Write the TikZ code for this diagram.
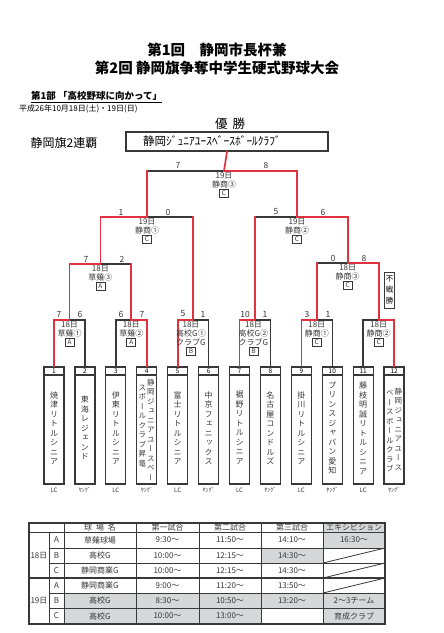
\documentclass[tikz,border=0pt]{standalone}
\usepackage{fontspec}
\setmainfont{Noto Sans CJK JP}
\newfontfamily\vjp{Noto Sans CJK JP}[RawFeature=+vert]
\definecolor{wred}{HTML}{E2323F}
\definecolor{lk}{HTML}{383838}
\definecolor{shd}{HTML}{D6D7D9}
\def\vstk#1{\vbox{\lineskiplimit=-\maxdimen\vsA#1\relax}}
\def\vsA#1{\ifx#1\relax\else\hbox to 1em{\hss#1\hss}\expandafter\vsA\fi}
\newcommand\mlab[6]{%
  \node[lab] (#1a) at (#2,#3) {#4};
  \node[lab] (#1b) at (#2,#3+8.5) {#5};
  \node[cbox] (#1c) at (#2,#3+17.5) {#6};}
\newcommand\mlabb[5]{%
  \node[lab] (#1a) at (#2,#3) {18日};
  \node[lab] (#1b) at (#2,#3+8.5) {#4};
  \node[lab] (#1d) at (#2,#3+17) {クラブG};
  \node[cbox] (#1c) at (#2,#3+26) {#5};}
\tikzset{
 rl/.style={draw=wred, line width=1.7pt, line cap=rect},
 bl/.style={draw=lk, line width=1.5pt, line cap=rect},
 lab/.style={inner sep=0pt, font=\fontsize{8}{8}\selectfont, text=lk},
 cbox/.style={draw=lk, line width=0.7pt, inner sep=0pt, minimum width=9pt, minimum height=8pt, font=\fontsize{6.5}{7}\selectfont, text=lk},
 sc/.style={inner sep=0pt, font=\fontsize{8.5}{8}\selectfont, text=lk},
 numbox/.style={draw=lk, line width=1.3pt, minimum width=20pt, minimum height=8pt, inner sep=0pt, font=\fontsize{6.5}{7}\selectfont},
 namebox/.style={draw=lk, line width=1.3pt, minimum width=20pt, minimum height=109pt, inner sep=0pt},
 vtxt/.style={inner sep=0pt, font=\vjp\fontsize{8}{9.5}\selectfont, text=lk},
 vtxtb/.style={inner sep=0pt, font=\vjp\fontsize{7.5}{9.5}\selectfont, text=lk},
 lgl/.style={inner sep=0pt, font=\fontsize{6}{6}\selectfont, text=lk},
 tline/.style={draw=lk, line width=0.9pt},
 tt/.style={inner sep=0pt, font=\fontsize{8}{8}\selectfont, text=lk},
}
\begin{document}
\begin{tikzpicture}[x=1pt,y=-1pt]
\useasboundingbox (0,0) rectangle (444,633);
\fill[white] (0,0) rectangle (444,633);
% titles
\node[inner sep=0pt, font=\fontsize{14.5}{15}\selectfont\bfseries] (t1) at (217,50) {第1回　静岡市長杯兼};
\node[inner sep=0pt, font=\fontsize{14.5}{15}\selectfont\bfseries] (t2) at (217,67.5) {第2回 静岡旗争奪中学生硬式野球大会};
\node[inner sep=0pt, anchor=west, font=\fontsize{9.5}{10}\selectfont\bfseries] (sub) at (31,96) {第1部 「高校野球に向かって」};
\draw[line width=0.7pt] ([yshift=-1.5pt]sub.south west) -- ([yshift=-1.5pt]sub.south east);
\node[inner sep=0pt, anchor=west, font=\fontsize{8}{8}\selectfont] (date) at (19,109) {平成26年10月18日(土)・19日(日)};
\node[inner sep=0pt, font=\fontsize{12.5}{13}\selectfont] (yusho) at (230,124) {優\hspace{5pt}勝};
\node[inner sep=0pt, font=\fontsize{12}{12}\selectfont] (renpa) at (64,143) {静岡旗2連覇};
\node[draw=lk, line width=1.2pt, minimum width=202pt, minimum height=19pt, inner xsep=17pt, inner ysep=0pt, text width=168pt, align=left, font=\fontsize{11.5}{12}\selectfont] (champ) at (227,141.5) {静岡ｼﾞｭﾆｱﾕｰｽﾍﾞｰｽﾎﾞｰﾙｸﾗﾌﾞ};
% teams
\foreach \i/\nm/\lg in {1/焼津リトルシニア/LC, 2/東海レジェンド/ﾔﾝｸﾞ, 3/伊東リトルシニア/LC, 4//ﾔﾝｸﾞ, 5/富士リトルシニア/LC, 6/中京フェニックス/ﾔﾝｸﾞ, 7/裾野リトルシニア/LC, 8/名古屋コンドルズ/ﾔﾝｸﾞ, 9/掛川リトルシニア/LC, 10/プリンスジャパン愛知/ﾔﾝｸﾞ, 11/藤枝明誠リトルシニア/LC, 12//ﾔﾝｸﾞ}{
  \pgfmathsetmacro\xx{54+30.92*(\i-1)}
  \node[namebox] (b\i) at (\xx,429.5) {};
  \node[numbox] (n\i) at (\xx,371) {\i};
  \node[vtxt] (v\i) at (\xx,428) {\expandafter\vstk\expandafter{\nm}};
  \node[lgl] (l\i) at (\xx,490) {\lg};
  \coordinate (h\i) at (\xx,320);
}
\node[vtxtb] (v4r) at (150.8,429.5) {\vstk{静岡ジュニアユースベー}};
\node[vtxtb] (v4l) at (142.3,426) {\vstk{スボールクラブ昇竜}};
\node[vtxtb] (v12r) at (398.3,429) {\vstk{静岡ジュニアユース}};
\node[vtxtb] (v12l) at (389.8,431) {\vstk{ベースボールクラブ}};
% junctions
\coordinate (m1) at (69.5,320); \coordinate (m2) at (131.3,320);
\coordinate (m3) at (193.2,320); \coordinate (m4) at (255,320);
\coordinate (m5) at (316.8,320); \coordinate (m6) at (378.7,320);
\coordinate (q1a) at (69.5,264); \coordinate (q1) at (100.4,264); \coordinate (q1b) at (131.3,264);
\coordinate (q2a) at (316.8,263); \coordinate (q2) at (347.7,263); \coordinate (q2b) at (378.7,263);
\coordinate (s1a) at (100.4,217); \coordinate (s1) at (147,217); \coordinate (s1b) at (193.2,217);
\coordinate (s2a) at (255,217); \coordinate (s2) at (297,217); \coordinate (s2b) at (347.7,217);
\coordinate (fa) at (147,171); \coordinate (f) at (224,171); \coordinate (fb) at (297,171);
% black segments first
\draw[bl] (m1) -- (h2) -- (n2.north);
\draw[bl] (n3.north) -- (h3) -- (m2);
\draw[bl] (m3) -- (h6) -- (n6.north);
\draw[bl] (m4) -- (h8) -- (n8.north);
\draw[bl] (m5) -- (h10) -- (n10.north);
\draw[bl] (n11.north) -- (h11) -- (m6);
\draw[bl] (q1) -- (q1b);
\draw[bl] (s1) -- (s1b);
\draw[bl] (q2a) -- (q2);
\draw[bl] (s2a) -- (s2);
\draw[bl] (fa) -- (f);
% red path
\draw[rl] (n1.north) -- (h1) -- (m1);
\draw[rl] (m2) -- (h4) -- (n4.north);
\draw[rl] (n5.north) -- (h5) -- (m3);
\draw[rl] (n7.north) -- (h7) -- (m4);
\draw[rl] (n9.north) -- (h9) -- (m5);
\draw[rl] (m6) -- (h12) -- (n12.north);
\draw[rl] (m1) -- (q1a) -- (q1);
\draw[rl] (m2) -- (q1b);
\draw[rl] (q1) -- (s1a) -- (s1);
\draw[rl] (m3) -- (s1b);
\draw[rl] (m5) -- (q2a);
\draw[rl] (q2) -- (q2b) -- (m6);
\draw[rl] (m4) -- (s2a);
\draw[rl] (s2) -- (s2b) -- (q2);
\draw[rl] (s1) -- (fa);
\draw[rl] (f) -- (fb) -- (s2);
\draw[rl] (f) -- (champ.south);
% scores
\node[sc] (sf1) at (178,165) {7}; \node[sc] (sf2) at (266,165) {8};
\node[sc] (ss1) at (121,212) {1}; \node[sc] (ss2) at (168,212) {0};
\node[sc] (ss3) at (276,212) {5}; \node[sc] (ss4) at (323,212) {6};
\node[sc] (sq1) at (86,259) {7}; \node[sc] (sq2) at (122,259) {2};
\node[sc] (sq3) at (333,258) {0}; \node[sc] (sq4) at (364,258) {8};
\node[sc] (sr1) at (59,314) {7}; \node[sc] (sr2) at (80,314) {6};
\node[sc] (sr3) at (121,314) {6}; \node[sc] (sr4) at (142,314) {7};
\node[sc] (sr5) at (183,314) {5}; \node[sc] (sr6) at (203,314) {1};
\node[sc] (sr7) at (245,314) {10}; \node[sc] (sr8) at (265,314) {1};
\node[sc] (sr9) at (307,314) {3}; \node[sc] (sr10) at (328,314) {1};
% match labels
\mlab{lf}{224}{176}{19日}{静商③}{C}
\mlab{ls1}{147}{221.5}{19日}{静商①}{C}
\mlab{ls2}{297}{221.5}{19日}{静商②}{C}
\mlab{lq1}{100.4}{268.5}{18日}{草薙③}{A}
\mlab{lq2}{347.7}{267.5}{18日}{静商③}{C}
\mlab{lm1}{69.5}{325}{18日}{草薙①}{A}
\mlab{lm2}{131.3}{325}{18日}{草薙②}{A}
\mlabb{lm3}{191}{325}{高校G①}{B}
\mlabb{lm4}{253.5}{325}{高校G②}{B}
\mlab{lm5}{316.8}{325}{18日}{静商①}{C}
\mlab{lm6}{378.7}{325}{18日}{静商②}{C}
\node[draw=lk, line width=0.8pt, inner sep=1pt, minimum width=10pt, minimum height=36pt, font=\vjp\fontsize{7.5}{11}\selectfont] (fusen) at (389.5,290) {\vstk{不戦勝}};
% table
\fill[shd] (323,523) rectangle (385,532);
\fill[shd] (323,532) rectangle (385,548);
\fill[shd] (261,548) rectangle (323,563);
\fill[shd] (64,593) rectangle (385,608);
\fill[shd] (64,608) rectangle (261,624);
\fill[shd] (323,608) rectangle (385,624);
\coordinate (tA) at (29,523); \coordinate (tB) at (385,624);
\draw[tline, line width=1.4pt] (tA) rectangle (tB);
\coordinate (r0l) at (29,532); \coordinate (r0r) at (385,532);
\draw[tline] (r0l) -- (r0r);
\foreach \yy in {548,563,593,608}{
  \coordinate (rl\yy) at (49,\yy); \coordinate (rr\yy) at (385,\yy);
  \draw[tline] (rl\yy) -- (rr\yy);
}
\coordinate (mdl) at (29,578); \coordinate (mdr) at (385,578);
\draw[tline, line width=1.8pt] (mdl) -- (mdr);
\coordinate (c1t) at (49,532); \coordinate (c1b) at (49,624);
\draw[tline] (c1t) -- (c1b);
\foreach \xx in {64,136,199,261,323}{
  \coordinate (ct\xx) at (\xx,523); \coordinate (cb\xx) at (\xx,624);
  \draw[tline] (ct\xx) -- (cb\xx);
}
\foreach \yb/\yt in {563/548,578/563,593/578}{
  \coordinate (dg\yb) at (323,\yb); \coordinate (dh\yb) at (385,\yt);
  \draw[draw=lk, line width=0.8pt] (dg\yb) -- (dh\yb);
}
\node[tt] (hd1) at (100,527.5) {球\hspace{4pt}場\hspace{4pt}名};
\node[tt] (hd2) at (167.5,527.5) {第一試合};
\node[tt] (hd3) at (230,527.5) {第二試合};
\node[tt] (hd4) at (292,527.5) {第三試合};
\node[tt] (hd5) at (354,527.5) {エキシビション};
\node[tt] (d18) at (39,555.5) {18日};
\node[tt] (d19) at (39,601) {19日};
\foreach \r/\yy/\l/\p/\ta/\tb/\tc/\ex in {1/540/A/草薙球場/9:30〜/11:50〜/14:10〜/16:30〜, 2/555.5/B/高校G/10:00〜/12:15〜/14:30〜/, 3/570.5/C/静岡商業G/10:00〜/12:15〜/14:30〜/, 4/585.5/A/静岡商業G/9:00〜/11:20〜/13:50〜/, 5/600.5/B/高校G/8:30〜/10:50〜/13:20〜/2〜3チーム, 6/616/C/高校G/10:00〜/13:00〜//育成クラブ}{
  \node[tt] (tl\r) at (56.5,\yy) {\l};
  \node[tt] (tp\r) at (100,\yy) {\p};
  \node[tt] (ta\r) at (167.5,\yy) {\ta};
  \node[tt] (tb\r) at (230,\yy) {\tb};
  \node[tt] (tc\r) at (292,\yy) {\tc};
  \node[tt] (te\r) at (354,\yy) {\ex};
}
\end{tikzpicture}
\end{document}
